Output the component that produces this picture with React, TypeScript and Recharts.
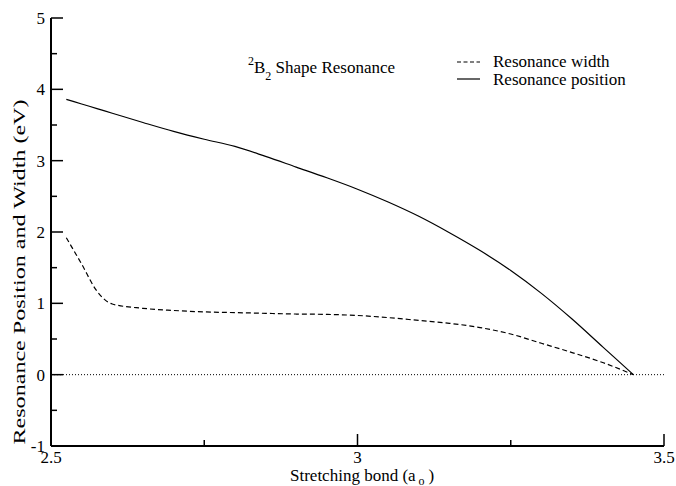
import { LineChart, Line, XAxis, YAxis, ReferenceLine, Customized } from "recharts";

const FONT = "'Liberation Serif', 'Times New Roman', serif";

// stretching bond (a0)
const bondLengths = [
  2.525, 2.55, 2.575, 2.6, 2.65, 2.7, 2.75, 2.8, 2.85, 2.9, 2.95, 3.0, 3.05,
  3.1, 3.15, 3.2, 3.25, 3.3, 3.35, 3.4, 3.45,
];
// eV
const resonanceWidth = [
  1.92, 1.55, 1.17, 0.99, 0.93, 0.9, 0.88, 0.87, 0.86, 0.85, 0.845, 0.83, 0.8,
  0.76, 0.72, 0.66, 0.57, 0.44, 0.31, 0.17, 0,
];
const resonancePosition = [
  3.86, 3.795, 3.73, 3.665, 3.535, 3.41, 3.3, 3.2, 3.06, 2.91, 2.76, 2.6, 2.42,
  2.22, 1.99, 1.74, 1.46, 1.14, 0.78, 0.39, 0,
];

const xTicks = [2.5, 2.75, 3, 3.25, 3.5];
const yTicks = [-1, -0.5, 0, 0.5, 1, 1.5, 2, 2.5, 3, 3.5, 4, 4.5, 5];

const data = bondLengths.map((x, i) => ({
  x,
  width: resonanceWidth[i],
  position: resonancePosition[i],
}));

const isMajorX = (v: number) => Math.abs(v * 2 - Math.round(v * 2)) < 1e-6;
const isMajorY = (v: number) => Number.isInteger(v);

function LeftTick({ x, y, payload }: any) {
  const major = isMajorY(payload.value);
  return (
    <g>
      <line x1={x} y1={y} x2={x + (major ? 12 : 6)} y2={y} stroke="#000" strokeWidth={1.5} />
      {major && (
        <text x={x - 6} y={y + 6} textAnchor="end" style={{ fontFamily: FONT }} fontSize={17} fill="#000">
          {payload.value}
        </text>
      )}
    </g>
  );
}

function RightTick({ x, y, payload }: any) {
  const major = isMajorY(payload.value);
  return <line x1={x} y1={y} x2={x - (major ? 12 : 6)} y2={y} stroke="#000" strokeWidth={1.5} />;
}

function BottomTick({ x, y, payload }: any) {
  const major = isMajorX(payload.value);
  return (
    <g>
      <line x1={x} y1={y} x2={x} y2={y - (major ? 12 : 6)} stroke="#000" strokeWidth={1.5} />
      {major && (
        <text x={x} y={y + 17} textAnchor="middle" style={{ fontFamily: FONT }} fontSize={17} fill="#000">
          {payload.value}
        </text>
      )}
    </g>
  );
}

function TopTick({ x, y, payload }: any) {
  const major = isMajorX(payload.value);
  return <line x1={x} y1={y} x2={x} y2={y + (major ? 12 : 6)} stroke="#000" strokeWidth={1.5} />;
}

function Texts() {
  return (
    <g style={{ fontFamily: FONT }} fill="#000">
      <text
        transform="translate(25, 272) rotate(-90)"
        textAnchor="middle"
        fontSize={17}
        textLength={345}
        lengthAdjust="spacingAndGlyphs"
      >
        Resonance Position and Width (eV)
      </text>
      <text x={290} y={481} fontSize={17}>
        Stretching bond (a
        <tspan fontSize={12} dx={3} dy={4}>o</tspan>
        <tspan dx={4} dy={-4}>)</tspan>
      </text>
      <text x={248} y={65} fontSize={12}>
        2<tspan fontSize={17} dy={8}>B</tspan>
        <tspan fontSize={12} dy={7}>2</tspan>
        <tspan fontSize={17} dy={-7}> Shape Resonance</tspan>
      </text>
      <line x1={457} y1={62} x2={480} y2={62} stroke="#000" strokeWidth={1.2} strokeDasharray="4 2.5" />
      <text x={493} y={67} fontSize={17}>Resonance width</text>
      <line x1={457} y1={79} x2={480} y2={79} stroke="#000" strokeWidth={1.2} />
      <text x={493} y={85} fontSize={17}>Resonance position</text>
    </g>
  );
}

export default function App() {
  return (
    <div style={{ position: "absolute", left: 0, top: 0, background: "#fff" }}>
      <LineChart
        width={676}
        height={486}
        data={data}
        margin={{ top: 18, right: 12, bottom: 0, left: 0 }}
      >
        <XAxis
          dataKey="x"
          type="number"
          domain={[2.5, 3.5]}
          ticks={xTicks}
          interval={0}
          allowDataOverflow
          height={40}
          tickSize={0}
          tickMargin={0}
          tickLine={false}
          tick={<BottomTick />}
          axisLine={{ stroke: "#000", strokeWidth: 2 }}
        />
        <XAxis
          xAxisId="top"
          orientation="top"
          type="number"
          domain={[2.5, 3.5]}
          ticks={xTicks}
          interval={0}
          allowDataOverflow
          height={0}
          tickSize={0}
          tickMargin={0}
          tickLine={false}
          tick={<TopTick />}
          axisLine={{ stroke: "#000", strokeWidth: 2 }}
        />
        <YAxis
          type="number"
          domain={[-1, 5]}
          ticks={yTicks}
          interval={0}
          allowDataOverflow
          width={51}
          tickSize={0}
          tickMargin={0}
          tickLine={false}
          tick={<LeftTick />}
          axisLine={{ stroke: "#000", strokeWidth: 2 }}
        />
        <YAxis
          yAxisId="right"
          orientation="right"
          type="number"
          domain={[-1, 5]}
          ticks={yTicks}
          interval={0}
          allowDataOverflow
          width={0}
          tickSize={0}
          tickMargin={0}
          tickLine={false}
          tick={<RightTick />}
          axisLine={{ stroke: "#000", strokeWidth: 2 }}
        />
        <ReferenceLine y={0} stroke="#000" strokeWidth={1} strokeDasharray="1 2" />
        <Line
          dataKey="width"
          type="monotone"
          stroke="#000"
          strokeWidth={1.2}
          strokeDasharray="5 3"
          dot={false}
          isAnimationActive={false}
        />
        <Line
          dataKey="position"
          type="monotone"
          stroke="#000"
          strokeWidth={1.2}
          dot={false}
          isAnimationActive={false}
        />
        <Customized component={<Texts />} />
      </LineChart>
    </div>
  );
}
